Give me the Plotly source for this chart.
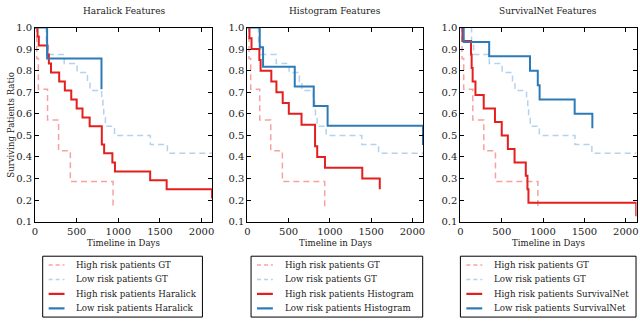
import plotly.graph_objects as go

# ---------------- data (days, survival ratio) ----------------
panel_titles = ["Haralick Features", "Histogram Features", "SurvivalNet Features"]
method_names = ["Haralick", "Histogram", "SurvivalNet"]

high_gt_days = [0, 20, 40, 150, 283, 424, 937]
high_gt_surv = [1.0, 0.857, 0.714, 0.571, 0.429, 0.286, 0.16]

low_gt_days = [0, 135, 160, 350, 505, 630, 660, 800, 815, 825, 845, 955, 1385, 1590, 2130]
low_gt_surv = [1.0, 0.917, 0.875, 0.833, 0.792, 0.75, 0.708, 0.667, 0.625, 0.583, 0.542, 0.5, 0.458, 0.417, 0.417]

har_high_days = [0, 30, 45, 148, 166, 192, 290, 358, 435, 500, 570, 656, 802, 830, 929, 960, 1383, 1581, 2127]
har_high_surv = [1.0, 0.958, 0.917, 0.875, 0.833, 0.792, 0.75, 0.708, 0.667, 0.625, 0.583, 0.542, 0.458, 0.417, 0.375, 0.333, 0.292, 0.25, 0.208]
har_low_days = [0, 145, 798]
har_low_surv = [1.0, 0.857, 0.714]

hist_high_days = [0, 25, 50, 145, 160, 290, 352, 428, 502, 656, 820, 846, 940, 1392, 1604]
hist_high_surv = [1.0, 0.95, 0.9, 0.85, 0.8, 0.75, 0.7, 0.65, 0.6, 0.55, 0.45, 0.4, 0.35, 0.3, 0.25]
hist_low_days = [0, 150, 190, 574, 804, 972, 2127]
hist_low_surv = [1.0, 0.909, 0.818, 0.727, 0.636, 0.545, 0.455]

sn_high_days = [0, 25, 128, 136, 148, 182, 282, 418, 500, 574, 655, 791, 811, 823, 2127]
sn_high_surv = [1.0, 0.9375, 0.875, 0.8125, 0.75, 0.6875, 0.625, 0.5625, 0.5, 0.4375, 0.375, 0.3125, 0.25, 0.1875, 0.125]
sn_low_days = [0, 40, 348, 842, 936, 958, 1382, 1596]
sn_low_surv = [1.0, 0.933, 0.867, 0.8, 0.733, 0.667, 0.6, 0.533]

x_ticks = [0, 500, 1000, 1500, 2000]
y_ticks = [0.1, 0.2, 0.3, 0.4, 0.5, 0.6, 0.7, 0.8, 0.9, 1.0]
x_range = [0, 2130]
y_range = [0.1, 1.0]

methods = [
    (har_high_days, har_high_surv, har_low_days, har_low_surv),
    (hist_high_days, hist_high_surv, hist_low_days, hist_low_surv),
    (sn_high_days, sn_high_surv, sn_low_days, sn_low_surv),
]

# ---------------- styles ----------------
RED = "#e41f1f"
BLUE = "#2c7bb8"
LRED = "#f7a2a2"
LBLUE = "#b4d2ef"
FONT = "DejaVu Serif"
W, H = 640, 324

# panel pixel boxes
panels_px = [(32.3, 211.0), (246.3, 423.5), (461.0, 638.5)]
top_px, bot_px = 22.3, 223.3
legends_px = [(40, 201, 46, 62, 72), (250, 423, 256, 272, 282), (461, 638, 467, 483, 493)]

def px(x):
    return x / W

def py(y):
    return 1 - y / H

fig = go.Figure()
annotations = []
shapes = []

for i in range(3):
    xa = "x" if i == 0 else f"x{i+1}"
    ya = "y" if i == 0 else f"y{i+1}"
    hd, hs, ld, ls = methods[i]
    fig.add_trace(go.Scatter(x=high_gt_days, y=high_gt_surv, mode="lines", line_shape="hv",
                             line=dict(color=LRED, width=1.5, dash="6px,4px"),
                             xaxis=xa, yaxis=ya, showlegend=False, name="High risk patients GT"))
    fig.add_trace(go.Scatter(x=low_gt_days, y=low_gt_surv, mode="lines", line_shape="hv",
                             line=dict(color=LBLUE, width=1.5, dash="6px,4px"),
                             xaxis=xa, yaxis=ya, showlegend=False, name="Low risk patients GT"))
    fig.add_trace(go.Scatter(x=hd, y=hs, mode="lines", line_shape="hv",
                             line=dict(color=RED, width=2),
                             xaxis=xa, yaxis=ya, showlegend=False,
                             name=f"High risk patients {method_names[i]}"))
    fig.add_trace(go.Scatter(x=ld, y=ls, mode="lines", line_shape="hv",
                             line=dict(color=BLUE, width=2),
                             xaxis=xa, yaxis=ya, showlegend=False,
                             name=f"Low risk patients {method_names[i]}"))

    x0, x1 = panels_px[i]
    axis_common = dict(showline=True, linecolor="black", linewidth=1, mirror="ticks",
                       ticks="inside", ticklen=4, tickcolor="black", tickwidth=1,
                       showgrid=False, zeroline=False,
                       tickfont=dict(family=FONT, size=10, color="#222"))
    fig.update_layout(**{
        ("xaxis" if i == 0 else f"xaxis{i+1}"): dict(
            domain=[px(x0), px(x1)], range=x_range, tickvals=x_ticks,
            anchor=ya, **axis_common),
        ("yaxis" if i == 0 else f"yaxis{i+1}"): dict(
            domain=[py(bot_px), py(top_px)], range=y_range, tickvals=y_ticks,
            tickformat=".1f", anchor=xa, **axis_common),
    })
    cx = (x0 + x1) / 2
    annotations.append(dict(text=panel_titles[i], x=px(cx), y=py(5), xref="paper", yref="paper",
                            showarrow=False, xanchor="center", yanchor="middle",
                            font=dict(family=FONT, size=9, color="#222")))
    annotations.append(dict(text="Timeline in Days", x=px(cx), y=py(245), xref="paper", yref="paper",
                            showarrow=False, xanchor="center", yanchor="middle",
                            font=dict(family=FONT, size=8.6, color="#222")))

    # legend box (drawn manually to match compact matplotlib spacing)
    lx0, lx1, sx0, sx1, tx = legends_px[i]
    shapes.append(dict(type="rect", xref="paper", yref="paper",
                       x0=px(lx0), x1=px(lx1), y0=py(322), y1=py(259),
                       line=dict(color="black", width=1), fillcolor="white", layer="above"))
    entries = [
        ("High risk patients GT", LRED, "dash", 1.5),
        ("Low risk patients GT", LBLUE, "dash", 1.5),
        (f"High risk patients {method_names[i]}", RED, "solid", 2.2),
        (f"Low risk patients {method_names[i]}", BLUE, "solid", 2.2),
    ]
    for k, (label, col, dash, lw) in enumerate(entries):
        yy = 268 + 15 * k
        shapes.append(dict(type="line", xref="paper", yref="paper",
                           x0=px(sx0), x1=px(sx1), y0=py(yy), y1=py(yy),
                           line=dict(color=col, width=lw, dash="4px,3px" if dash == "dash" else "solid"),
                           layer="above"))
        annotations.append(dict(text=label, x=px(tx), y=py(yy), xref="paper", yref="paper",
                                showarrow=False, xanchor="left", yanchor="middle",
                                font=dict(family=FONT, size=8.7, color="#222")))

annotations.append(dict(text="Surviving Patients Ratio", x=px(8), y=py(123), xref="paper", yref="paper",
                        showarrow=False, textangle=-90, xanchor="center", yanchor="middle",
                        font=dict(family=FONT, size=8.6, color="#222")))

fig.update_layout(width=W, height=H, margin=dict(l=0, r=0, t=0, b=0),
                  paper_bgcolor="white", plot_bgcolor="white",
                  showlegend=False, annotations=annotations, shapes=shapes)

fig.write_html("out.html", config={"displayModeBar": False},
               post_script="document.body.style.margin='0';document.body.style.padding='0';")
